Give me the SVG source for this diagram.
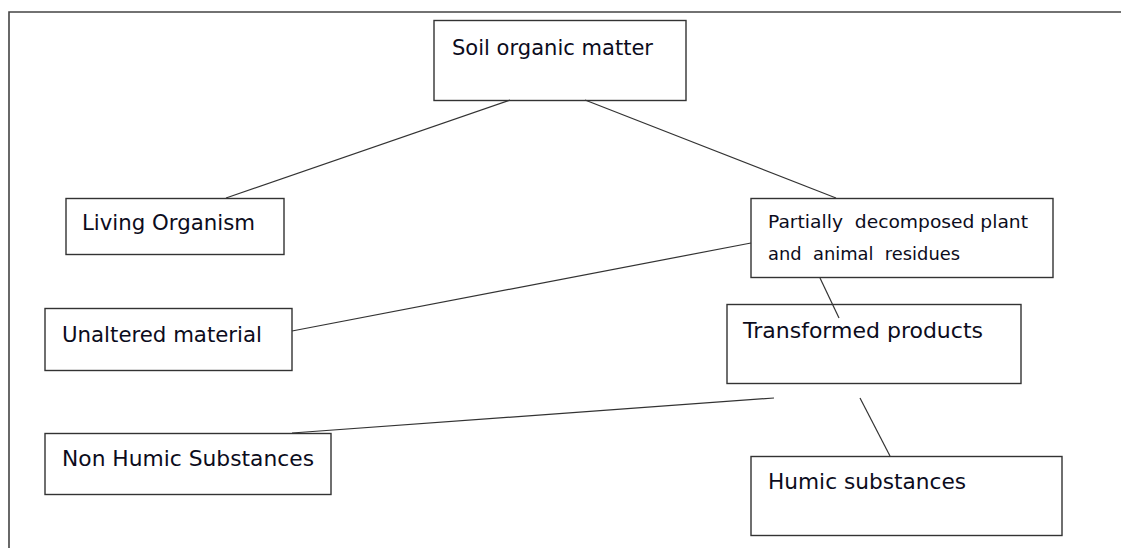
<svg xmlns="http://www.w3.org/2000/svg" width="1121" height="548" viewBox="0 0 1121 548">
<style>
.box{fill:#fff;stroke:#333;stroke-width:1.4}
.lbl{font-family:"DejaVu Sans","Liberation Sans",sans-serif;font-size:21px;fill:#0c0c1c;white-space:pre}
.sm{font-size:18px}
.con line{stroke:#333;stroke-width:1.2}
.frame{fill:none;stroke:#444;stroke-width:1.6}
</style>
<rect width="1121" height="548" fill="#fff"/>
<path class="frame" d="M9,548 V12 H1121"/>
<g id="soil"><rect class="box" x="434" y="20.5" width="252" height="80"/><text class="lbl" x="452" y="55" textLength="201" lengthAdjust="spacingAndGlyphs">Soil organic matter</text></g>
<g id="living"><rect class="box" x="66" y="198.5" width="218" height="56"/><text class="lbl" x="82" y="230" textLength="173" lengthAdjust="spacingAndGlyphs">Living Organism</text></g>
<g id="partial"><rect class="box" x="751" y="198.5" width="302" height="79"/><text class="lbl sm" x="768" y="228" textLength="260" lengthAdjust="spacingAndGlyphs">Partially  decomposed plant</text><text class="lbl sm" x="768" y="260" textLength="192" lengthAdjust="spacingAndGlyphs">and  animal  residues</text></g>
<g id="unaltered"><rect class="box" x="45" y="308.5" width="247" height="62"/><text class="lbl" x="62" y="342" textLength="200" lengthAdjust="spacingAndGlyphs">Unaltered material</text></g>
<g id="transformed"><rect class="box" x="727" y="304.5" width="294" height="79"/><text class="lbl" x="743" y="338" textLength="240" lengthAdjust="spacingAndGlyphs">Transformed products</text></g>
<g id="nonhumic"><rect class="box" x="45" y="433.5" width="286" height="61"/><text class="lbl" x="62" y="466" textLength="252" lengthAdjust="spacingAndGlyphs">Non Humic Substances</text></g>
<g id="humic"><rect class="box" x="751" y="456.5" width="311" height="79"/><text class="lbl" x="768" y="489" textLength="198" lengthAdjust="spacingAndGlyphs">Humic substances</text></g>
<g class="con">
<line x1="510" y1="100" x2="226" y2="198"/>
<line x1="585" y1="100" x2="836" y2="198"/>
<line x1="751" y1="243" x2="292" y2="331"/>
<line x1="820" y1="278" x2="839" y2="318"/>
<line x1="774" y1="398" x2="292" y2="433"/>
<line x1="860" y1="398" x2="890" y2="456"/>
</g>
</svg>
